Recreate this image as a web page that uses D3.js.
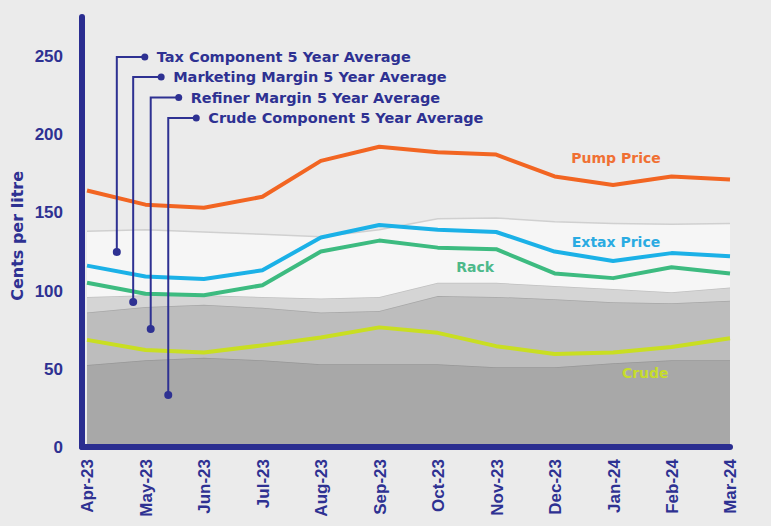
<!DOCTYPE html>
<html lang="en">
<head>
    <meta charset="UTF-8">
    <script src="https://cdn.jsdelivr.net/npm/d3@7"></script>
    <title>Fuel price components</title>
    <style type="text/css">
        body {
            margin: 0;
            background-color: #ebebeb;
            font-family: "DejaVu Sans", sans-serif;
        }
        .axis text {
            fill: #2e3192;
            font-weight: bold;
        }
        .annot text {
            fill: #2e3192;
            font-weight: bold;
            font-size: 14.5px;
        }
    </style>
</head>
<body>
<svg id="chart"></svg>

<script>
    // months on the x axis
    var months = ["Apr-23", "May-23", "Jun-23", "Jul-23", "Aug-23", "Sep-23",
                  "Oct-23", "Nov-23", "Dec-23", "Jan-24", "Feb-24", "Mar-24"];

    // price lines, cents per litre
    var pumpPrice  = [164, 155, 153, 160, 183, 192, 188.5, 187, 173, 167.5, 173, 171];
    var extaxPrice = [116, 109, 107.5, 113, 134, 142, 139, 137.5, 125, 119, 124, 122];
    var rackPrice  = [105, 98, 97, 103.5, 125, 132, 127.5, 126.5, 111, 108, 115, 111];
    var crudePrice = [68.5, 62, 60.5, 65, 70, 76.5, 73, 64.5, 59.5, 60.5, 64, 69.5];

    // 5 year average components (stacked)
    var crudeAvg     = [52.5, 55.5, 57, 55.5, 53, 53, 53, 51, 51, 53.5, 55.5, 55.5];
    var refinerAvg   = [33.5, 34, 34, 33.5, 33, 34, 43.5, 45, 43.5, 39, 36.5, 38];
    var marketingAvg = [10, 7.5, 6, 7, 9, 9, 8.5, 9, 8.5, 8.5, 7, 8.5];
    var taxAvg       = [42, 42, 40.5, 40, 39.5, 43, 41, 41.5, 41, 42, 43.5, 41];

    var yTicks = [0, 50, 100, 150, 200, 250];

    // callout labels for the bands: x as month index, value of the end dot, value of the text row
    var annotLabels = ["Tax Component 5 Year Average", "Marketing Margin 5 Year Average",
                       "Refiner Margin 5 Year Average", "Crude Component 5 Year Average"];
    var annotIndex = [0.51, 0.79, 1.09, 1.39];
    var annotValue = [124.7, 92.7, 75.4, 33.2];
    var annotRow   = [249.4, 236.6, 223.5, 210.4];

    // line series labels
    var seriesNames  = ["Pump Price", "Extax Price", "Rack", "Crude"];
    var seriesIndex  = [9.05, 9.05, 6.64, 9.55];
    var seriesValue  = [184.8, 131, 115, 47.3];

    var width = 771, height = 526;
    var svg = d3.select("#chart").attr("width", width).attr("height", height);

    // scales
    var x = d3.scaleLinear().domain([0, months.length - 1]).range([87, 730]);
    var y = d3.scaleLinear().domain([0, 275]).range([447, 17]);

    // stacked 5 year average bands
    var rows = months.map(function(m, i) {
        return { crude: crudeAvg[i], refiner: refinerAvg[i], marketing: marketingAvg[i], tax: taxAvg[i] };
    });
    var stack = d3.stack().keys(["crude", "refiner", "marketing", "tax"]);
    var bandFill = { crude: "#a8a8a8", refiner: "#bdbdbd", marketing: "#d5d5d5", tax: "#f6f6f6" };
    var bandEdge = { crude: "#979797", refiner: "#a7a7a7", marketing: "#c0c0c0", tax: "#d0d0d0" };

    var area = d3.area()
        .x(function(d, i) { return x(i); })
        .y0(function(d) { return y(d[0]); })
        .y1(function(d) { return y(d[1]); });
    var edge = d3.line()
        .x(function(d, i) { return x(i); })
        .y(function(d) { return y(d[1]); });

    var bands = svg.append("g").attr("class", "bands");
    stack(rows).forEach(function(layer) {
        bands.append("path")
            .attr("d", area(layer))
            .attr("fill", bandFill[layer.key]);
        bands.append("path")
            .attr("d", edge(layer))
            .attr("fill", "none")
            .attr("stroke", bandEdge[layer.key])
            .attr("stroke-width", 1.5);
    });

    // price lines
    var line = d3.line()
        .x(function(d, i) { return x(i); })
        .y(function(d) { return y(d); });
    var series = [
        { values: pumpPrice,  color: "#f26522", text: "#f07033" },
        { values: extaxPrice, color: "#1bb1e7", text: "#2aabe2" },
        { values: rackPrice,  color: "#3dbb80", text: "#4db98a" },
        { values: crudePrice, color: "#c9de22", text: "#c6dc2c" }
    ];
    svg.append("g").selectAll("path")
        .data(series)
        .enter()
        .append("path")
        .attr("d", function(d) { return line(d.values); })
        .attr("fill", "none")
        .attr("stroke", function(d) { return d.color; })
        .attr("stroke-width", 4)
        .attr("stroke-linejoin", "round");

    svg.append("g").selectAll("text")
        .data(series)
        .enter()
        .append("text")
        .attr("x", function(d, i) { return x(seriesIndex[i]); })
        .attr("y", function(d, i) { return y(seriesValue[i]); })
        .attr("dy", "0.35em")
        .attr("text-anchor", "middle")
        .attr("font-size", 14)
        .attr("font-weight", "bold")
        .attr("fill", function(d) { return d.text; })
        .text(function(d, i) { return seriesNames[i]; });

    // callouts
    var annot = svg.append("g").attr("class", "annot");
    annotLabels.forEach(function(label, i) {
        var ax = x(annotIndex[i]);
        var ay = y(annotValue[i]);
        var ry = y(annotRow[i]);
        var dotX = ax + 28;
        var g = annot.append("g");
        g.append("path")
            .attr("d", "M" + dotX + "," + ry + "H" + ax + "V" + ay)
            .attr("fill", "none")
            .attr("stroke", "#2e3192")
            .attr("stroke-width", 2);
        g.append("circle").attr("cx", dotX).attr("cy", ry).attr("r", 3.5).attr("fill", "#2e3192");
        g.append("circle").attr("cx", ax).attr("cy", ay).attr("r", 4).attr("fill", "#2e3192");
        g.append("text")
            .attr("x", dotX + 12)
            .attr("y", ry)
            .attr("dy", "0.35em")
            .text(label);
    });

    // axes
    var yAxis = d3.axisLeft(y).tickValues(yTicks).tickSize(0).tickPadding(19);
    var gy = svg.append("g")
        .attr("class", "axis")
        .attr("transform", "translate(82,0)")
        .call(yAxis);
    gy.select(".domain").remove();
    gy.selectAll("text").attr("font-size", 17);

    var xAxis = d3.axisBottom(x).tickValues(d3.range(months.length))
        .tickFormat(function(i) { return months[i]; }).tickSize(0);
    var gx = svg.append("g")
        .attr("class", "axis")
        .attr("transform", "translate(0,447)")
        .call(xAxis);
    gx.select(".domain").remove();
    gx.selectAll("text")
        .attr("font-size", 17)
        .attr("text-anchor", "end")
        .attr("transform", "rotate(-90)")
        .attr("x", -12)
        .attr("y", 0)
        .attr("dy", "0.35em");

    // thick axis lines
    svg.append("line")
        .attr("x1", 82).attr("x2", 82)
        .attr("y1", y(275)).attr("y2", y(0))
        .attr("stroke", "#2a2d90").attr("stroke-width", 6).attr("stroke-linecap", "round");
    svg.append("line")
        .attr("x1", 82).attr("x2", x(months.length - 1))
        .attr("y1", y(0)).attr("y2", y(0))
        .attr("stroke", "#2a2d90").attr("stroke-width", 6).attr("stroke-linecap", "round");

    // y title
    svg.append("text")
        .attr("transform", "translate(17," + y(135) + ") rotate(-90)")
        .attr("dy", "0.35em")
        .attr("text-anchor", "middle")
        .attr("font-size", 16)
        .attr("font-weight", "bold")
        .attr("fill", "#2e3192")
        .text("Cents per litre");
</script>
</body>
</html>
